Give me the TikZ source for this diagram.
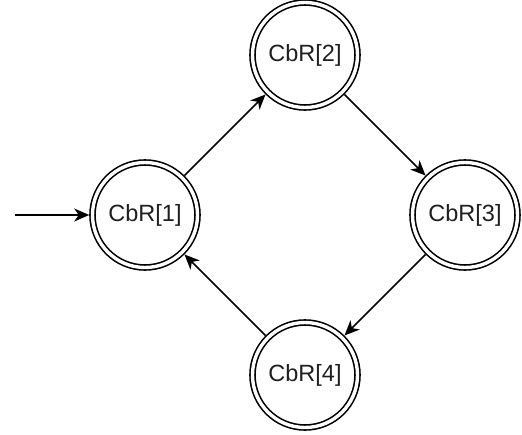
\documentclass[tikz,border=0pt]{standalone}
\usepackage{fontspec}
\setmainfont{Liberation Sans}
\usetikzlibrary{arrows.meta}
\begin{document}
\begin{tikzpicture}[x=1pt,y=1pt,
  statenode/.style={circle, draw=black, line width=1.6pt, double=white, double distance=3.4pt,
    minimum size=105pt, inner sep=0pt, outer sep=3.3pt,
    font=\fontsize{23.5}{28}\selectfont, text=black!88},
  arr/.style={line width=1.5pt, -{Stealth[length=15pt, width=13pt, inset=4.5pt]}}]
\useasboundingbox (0,0) rectangle (522,434);
\node[statenode] (n1) at (145,219) {CbR[1]};
\node[statenode] (n2) at (305,379) {CbR[2]};
\node[statenode] (n3) at (465,219) {CbR[3]};
\node[statenode] (n4) at (305,59) {CbR[4]};
\coordinate (start) at (15,219);
\draw[arr] (start) -- (n1);
\draw[arr] (n1) -- (n2);
\draw[arr] (n2) -- (n3);
\draw[arr] (n3) -- (n4);
\draw[arr] (n4) -- (n1);
\end{tikzpicture}
\end{document}
